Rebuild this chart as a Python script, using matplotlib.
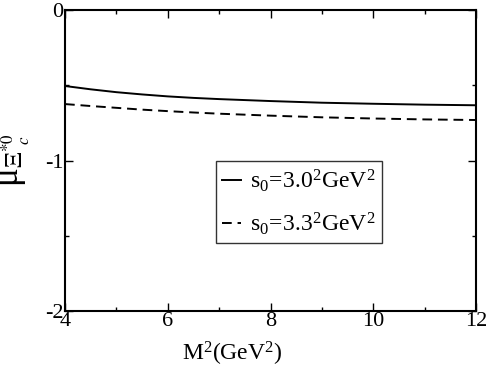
import matplotlib
matplotlib.use('Agg')
import matplotlib.pyplot as plt
from matplotlib.ticker import MultipleLocator

plt.rcParams['font.family'] = 'Liberation Serif'
plt.rcParams['mathtext.fontset'] = 'stix'
plt.rcParams['axes.unicode_minus'] = False

# values
m2 = [4.0, 4.5, 5.0, 5.5, 6.0, 6.5, 7.0, 8.0, 9.0, 10.0, 11.0, 12.0]
mu_s30 = [-0.505, -0.527, -0.546, -0.561, -0.574, -0.584, -0.592, -0.605, -0.616, -0.623, -0.629, -0.633]
mu_s33 = [-0.625, -0.638, -0.650, -0.662, -0.672, -0.681, -0.689, -0.702, -0.713, -0.721, -0.727, -0.731]

fig = plt.figure(figsize=(4.91, 3.68), dpi=100)
ax = fig.add_axes([65/491, 57/368, 411/491, 301/368])

ax.plot(m2, mu_s30, color='black', linewidth=1.4, linestyle='-',
        label=r'$\mathregular{s_0\!=\!3.0^2GeV^2}$')
ax.plot(m2, mu_s33, color='black', linewidth=1.4, linestyle=(0, (5, 3)),
        label=r'$\mathregular{s_0\!=\!3.3^2GeV^2}$')

ax.set_xlim(4, 12)
ax.set_ylim(-2, 0)
ax.xaxis.set_major_locator(MultipleLocator(2))
ax.xaxis.set_minor_locator(MultipleLocator(1))
ax.yaxis.set_major_locator(MultipleLocator(1))
ax.yaxis.set_minor_locator(MultipleLocator(0.5))
ax.tick_params(which='both', direction='in', top=True, right=True, labelsize=16, width=1, pad=1)
ax.tick_params(which='major', length=6)
ax.tick_params(which='minor', length=3)
for s in ax.spines.values():
    s.set_linewidth(1.5)

ax.set_xlabel(r'$\mathregular{M^2(GeV^2)}$', fontsize=17)
ax.xaxis.set_label_coords(0.406, -0.095)
ax.set_ylabel(r'μ$_{\Xi^{*0}_{\;\;c}}$', fontsize=25)
ax.yaxis.set_label_coords(-0.08, 0.5)

leg = ax.legend(loc='center', bbox_to_anchor=(0.569, 0.362), fontsize=17, frameon=True,
                fancybox=False, edgecolor='black', handlelength=0.8, handletextpad=0.4,
                borderpad=0.25, labelspacing=0.7, borderaxespad=0)
leg.get_frame().set_linewidth(1.0)

fig.savefig('out.png', dpi=100)
